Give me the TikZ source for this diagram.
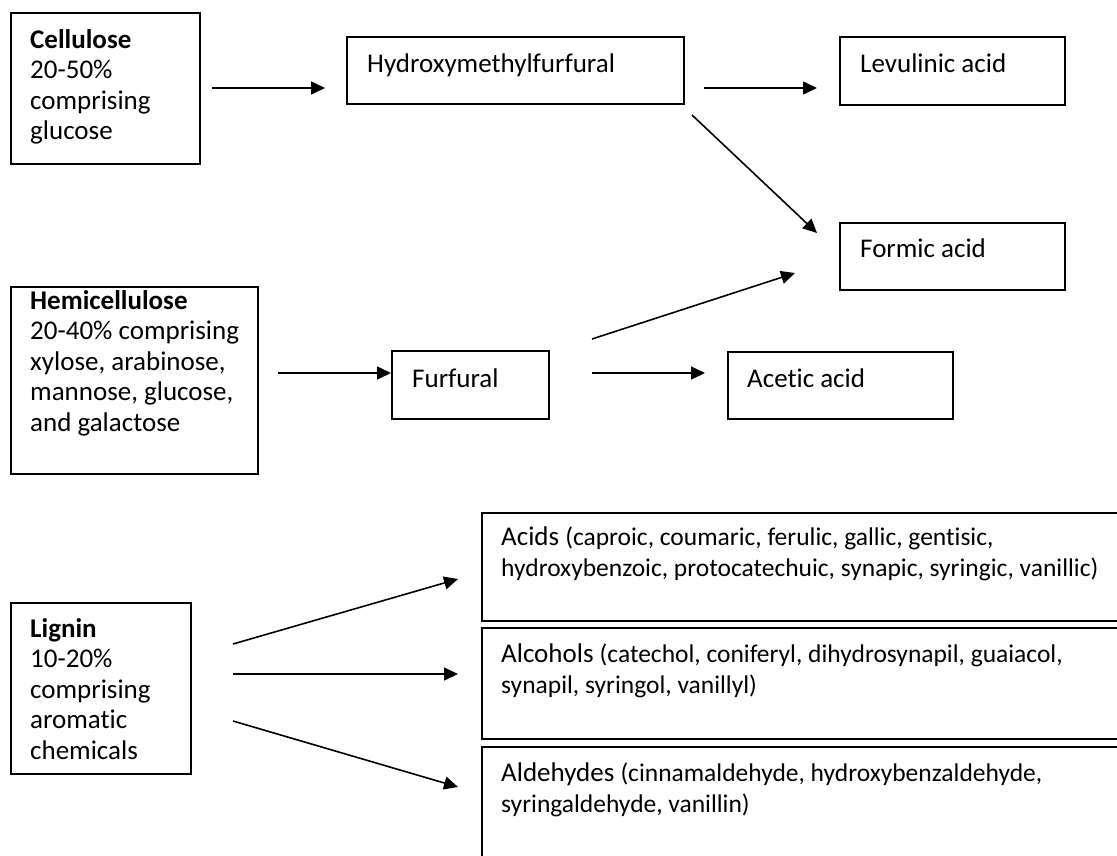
\documentclass[tikz,border=0pt]{standalone}
\usepackage{fontspec}
\setmainfont{Carlito}[Ligatures=NoCommon]
\usetikzlibrary{arrows.meta}
\newcommand\parenx[1]{{\fontsize{25.5}{31}\selectfont #1}}
\begin{document}
\begin{tikzpicture}[x=1pt,y=-1pt,
  box/.style={draw=black, line width=2pt, rectangle, inner sep=0pt, anchor=north west},
  lbl/.style={anchor=base west, inner sep=0pt, font=\fontsize{27}{30.5}\selectfont},
  rlbl/.style={anchor=base west, inner sep=0pt, font=\fontsize{27}{31.5}\selectfont},
  conn/.style={line width=1.6pt, -{Triangle[length=14pt,width=13pt]}}
]
\useasboundingbox (0,0) rectangle (1117,855);
\clip (0,0) rectangle (1117,855);
\fill[white] (0,0) rectangle (1117,855);

% boxes
\node[box, minimum width=189pt, minimum height=151pt] (cel) at (10,12) {};
\node[box, minimum width=247pt, minimum height=187pt] (hemi) at (10,286) {};
\node[box, minimum width=180pt, minimum height=171pt] (lig) at (10,602) {};
\node[box, minimum width=337pt, minimum height=67pt] (hmf) at (346,36) {};
\node[box, minimum width=225pt, minimum height=68pt] (lev) at (839,36) {};
\node[box, minimum width=225pt, minimum height=67pt] (form) at (839,222) {};
\node[box, minimum width=157pt, minimum height=68pt] (furf) at (391,350) {};
\node[box, minimum width=225pt, minimum height=67pt] (acet) at (727,351) {};
\node[box, minimum width=660pt, minimum height=108pt] (acids) at (481,512) {};
\node[box, minimum width=660pt, minimum height=111pt] (alc) at (481,627) {};
\node[box, minimum width=660pt, minimum height=130pt] (ald) at (481,746) {};

% texts
\node[lbl] (celt) at (30,48) {\begin{tabular}[t]{@{}l@{}}\textbf{Cellulose}\\20-50\%\\comprising\\glucose\end{tabular}};
\node[lbl] (hemit) at (30,309) {\begin{tabular}[t]{@{}l@{}}\textbf{Hemicellulose}\\20-40\% comprising\\xylose, arabinose,\\mannose, glucose,\\and galactose\end{tabular}};
\node[lbl] (ligt) at (30,637) {\begin{tabular}[t]{@{}l@{}}\textbf{Lignin}\\10-20\%\\comprising\\aromatic\\chemicals\end{tabular}};
\node[lbl] (hmft) at (367,72) {Hydroxymethylfurfural};
\node[lbl] (levt) at (860,72) {Levulinic acid};
\node[lbl] (formt) at (860,257) {Formic acid};
\node[lbl] (furft) at (412,387) {Furfural};
\node[lbl] (acett) at (747,387) {Acetic acid};
\node[rlbl] (acidst) at (501,545) {\begin{tabular}[t]{@{}l@{}}Acids \parenx{(caproic, coumaric, ferulic, gallic, gentisic,}\\\parenx{hydroxybenzoic, protocatechuic, synapic, syringic, vanillic)}\end{tabular}};
\node[rlbl] (alct) at (501,662) {\begin{tabular}[t]{@{}l@{}}Alcohols \parenx{(catechol, coniferyl, dihydrosynapil, guaiacol,}\\\parenx{synapil, syringol, vanillyl)}\end{tabular}};
\node[rlbl] (aldt) at (501,781) {\begin{tabular}[t]{@{}l@{}}Aldehydes \parenx{(cinnamaldehyde, hydroxybenzaldehyde,}\\\parenx{syringaldehyde, vanillin)}\end{tabular}};

% connector end points
\coordinate (a1s) at (212,88);  \coordinate (a1e) at (325,88);
\coordinate (a2s) at (704,88);  \coordinate (a2e) at (817,88);
\coordinate (a3s) at (692,115); \coordinate (a3e) at (817,233);
\coordinate (a4s) at (592,339); \coordinate (a4e) at (795,273);
\coordinate (a5s) at (278,373); \coordinate (a5e) at (391,373);
\coordinate (a6s) at (592,373); \coordinate (a6e) at (705,373);
\coordinate (a7s) at (233,644); \coordinate (a7e) at (458,579);
\coordinate (a8s) at (233,674); \coordinate (a8e) at (458,674);
\coordinate (a9s) at (233,721); \coordinate (a9e) at (458,787);

\draw[conn] (a1s) -- (a1e);
\draw[conn] (a2s) -- (a2e);
\draw[conn] (a3s) -- (a3e);
\draw[conn] (a4s) -- (a4e);
\draw[conn] (a5s) -- (a5e);
\draw[conn] (a6s) -- (a6e);
\draw[conn] (a7s) -- (a7e);
\draw[conn] (a8s) -- (a8e);
\draw[conn] (a9s) -- (a9e);
\end{tikzpicture}
\end{document}
